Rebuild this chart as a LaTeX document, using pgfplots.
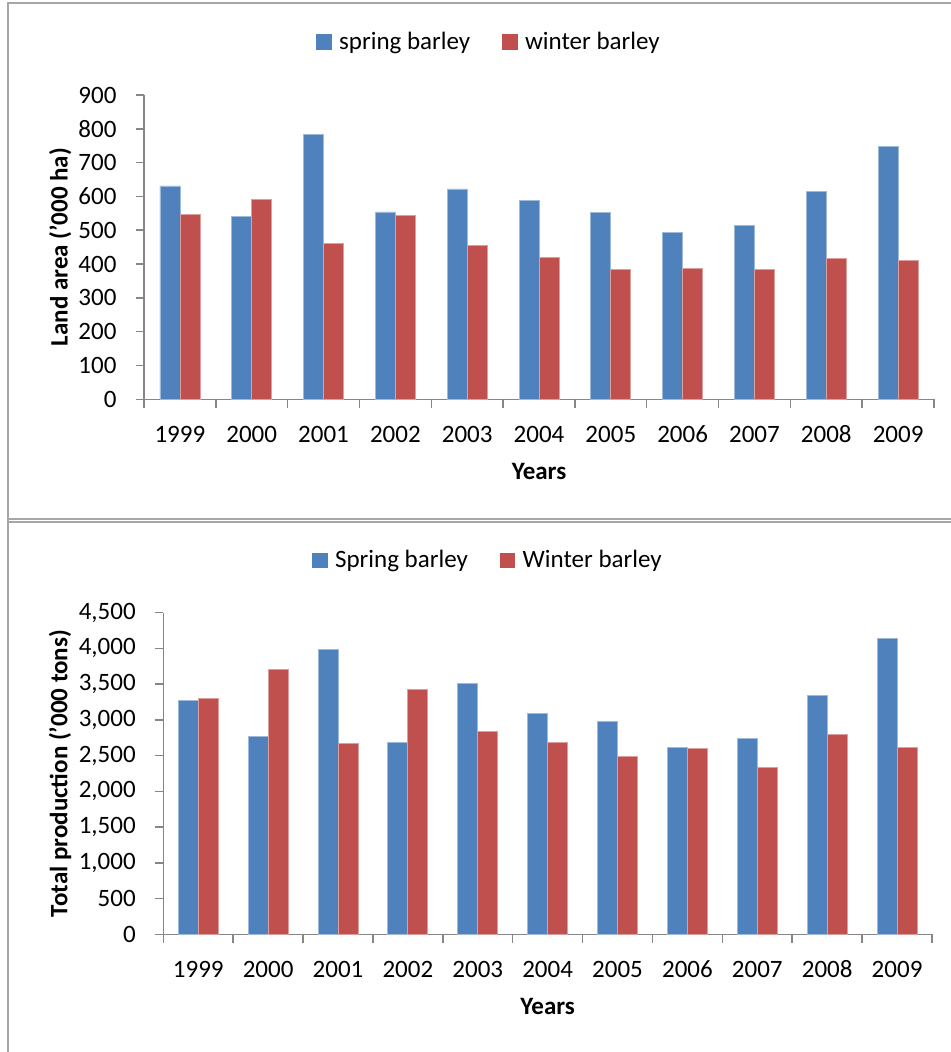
\documentclass[border=0pt]{standalone}
\usepackage{fontspec}
\setmainfont{Carlito}
\usepackage{pgfplots}
\pgfplotsset{compat=1.18}
\definecolor{bblue}{HTML}{4F81BD}
\definecolor{bred}{HTML}{C0504D}
\definecolor{axgray}{HTML}{868686}
\definecolor{framegray}{HTML}{A6A6A6}
\pgfplotsset{
  barchart/.style={
    scale only axis,
    ybar=0pt, bar width=10pt,
    xmin=-0.5, xmax=10.5, ymin=0,
    xtick={-0.5,0.5,1.5,2.5,3.5,4.5,5.5,6.5,7.5,8.5,9.5,10.5},
    x tick label as interval,
    xticklabels={1999,2000,2001,2002,2003,2004,2005,2006,2007,2008,2009},
    axis x line*=bottom, axis y line*=left,
    axis line style={axgray, line width=0.75pt},
    tick style={axgray, line width=0.75pt},
    major tick length=4.25pt,
    tick align=outside,
    /pgf/number format/assume math mode=true,
    /pgf/number format/1000 sep={,},
    tick label style={font=\fontsize{12.5pt}{15pt}\selectfont},
    xticklabel style={yshift=-5.5pt},
    yticklabel style={xshift=-6pt},
    label style={font=\fontsize{12.5pt}{15pt}\selectfont\bfseries},
    legend style={draw=none, fill=none, legend columns=2, anchor=center,
      font=\fontsize{12.5pt}{15pt}\selectfont,
      /tikz/every even column/.append style={column sep=14pt}},
  },
  bluebar/.style={fill=bblue, draw=bblue!55!white, line width=0.4pt,
    legend image code/.code={\fill[bblue] (0pt,-3.6pt) rectangle (7.2pt,3.6pt); \path (9pt,0pt);}},
  redbar/.style={fill=bred, draw=bred!55!white, line width=0.4pt,
    legend image code/.code={\fill[bred] (0pt,-3.6pt) rectangle (7.2pt,3.6pt); \path (9pt,0pt);}},
}
\begin{document}
\begin{tikzpicture}
\path[use as bounding box] (0pt,0pt) rectangle (475pt,526pt);
% frames
\draw[framegray, line width=1pt] (4pt,0pt) -- (4pt,524.25pt) -- (476pt,524.25pt);
\draw[framegray, line width=1pt] (4pt,266.3pt) -- (476pt,266.3pt);
\draw[framegray, line width=1pt] (4pt,264.8pt) -- (476pt,264.8pt);

\begin{axis}[barchart,
  at={(72pt,326.35pt)}, anchor=south west,
  width=395pt, height=152.15pt,
  ymax=900, ytick={0,100,...,900},
  ylabel={Land area ('000 ha)},
  xlabel={Years},
  ylabel style={at={(axis description cs:-0.106,0.5)}, anchor=center},
  xlabel style={at={(axis description cs:0.5,-0.2366)}, anchor=center},
  legend style={at={(0.438,1.174)}},
]
\addplot[bluebar] coordinates {(0,631) (1,540) (2,782) (3,554) (4,622) (5,587) (6,553) (7,494) (8,515) (9,616) (10,749)};
\addlegendentry{spring barley}
\addplot[redbar] coordinates {(0,547) (1,590) (2,462) (3,545) (4,456) (5,420) (6,385) (7,388) (8,383) (9,417) (10,411)};
\addlegendentry{winter barley}
\end{axis}

\begin{axis}[barchart,
  at={(81.65pt,58.85pt)}, anchor=south west,
  width=384.35pt, height=160.8pt,
  ymax=4500, ytick={0,500,...,4500},
  ylabel={Total production ('000 tons)},
  xlabel={Years},
  ylabel style={at={(axis description cs:-0.1344,0.5)}, anchor=center},
  xlabel style={at={(axis description cs:0.5,-0.2245)}, anchor=center},
  legend style={at={(0.4237,1.162)}},
]
\addplot[bluebar] coordinates {(0,3273) (1,2770) (2,3981) (3,2690) (4,3506) (5,3096) (6,2979) (7,2620) (8,2736) (9,3338) (10,4135)};
\addlegendentry{Spring barley}
\addplot[redbar] coordinates {(0,3301) (1,3711) (2,2666) (3,3427) (4,2840) (5,2686) (6,2494) (7,2602) (8,2331) (9,2798) (10,2620)};
\addlegendentry{Winter barley}
\end{axis}
\end{tikzpicture}
\end{document}
